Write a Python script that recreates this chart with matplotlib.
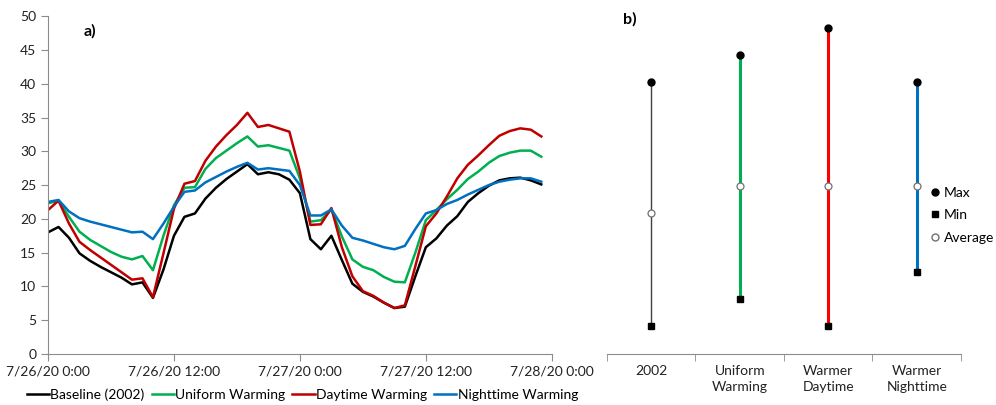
import matplotlib
matplotlib.use("Agg")
import matplotlib.pyplot as plt
from matplotlib.lines import Line2D

plt.rcParams["font.family"] = ["Lato", "DejaVu Sans"]

# hourly temperatures, 7/26/20 0:00 .. 7/27/20 23:00
hours = list(range(48))
baseline = [18.0, 18.8, 17.2, 14.9, 13.8, 12.9, 12.1, 11.3, 10.3, 10.6, 8.3, 12.5,
            17.5, 20.3, 20.8, 23.0, 24.6, 25.9, 27.0, 28.1, 26.6, 26.9, 26.6, 25.8,
            23.8, 17.0, 15.5, 17.5, 13.9, 10.4, 9.2, 8.5, 7.6, 6.8, 7.0, 11.5,
            15.8, 17.1, 19.0, 20.4, 22.5, 23.8, 24.9, 25.7, 26.0, 26.1, 25.7, 25.1]
uniform = [22.3, 22.7, 20.3, 18.1, 16.9, 16.0, 15.1, 14.4, 14.0, 14.5, 12.4, 17.5,
           22.0, 24.6, 24.7, 27.4, 29.0, 30.1, 31.2, 32.2, 30.7, 30.9, 30.5, 30.1,
           26.0, 19.6, 19.8, 21.4, 17.4, 14.0, 12.9, 12.4, 11.4, 10.7, 10.6, 15.0,
           19.8, 21.3, 22.9, 24.3, 25.9, 27.0, 28.3, 29.3, 29.8, 30.1, 30.1, 29.2]
daytime = [21.3, 22.7, 19.3, 16.6, 15.4, 14.3, 13.2, 12.1, 11.0, 11.2, 8.4, 14.9,
           21.5, 25.2, 25.6, 28.6, 30.7, 32.4, 33.9, 35.7, 33.6, 33.9, 33.4, 32.9,
           27.0, 19.1, 19.2, 21.6, 15.8, 11.5, 9.3, 8.6, 7.6, 6.8, 7.2, 13.0,
           18.9, 20.8, 23.3, 26.0, 28.0, 29.4, 30.9, 32.3, 33.0, 33.4, 33.2, 32.2]
nighttime = [22.5, 22.8, 21.1, 20.1, 19.6, 19.2, 18.8, 18.4, 18.0, 18.1, 17.0, 19.3,
             21.8, 24.0, 24.2, 25.4, 26.2, 27.0, 27.7, 28.3, 27.3, 27.5, 27.3, 27.1,
             25.0, 20.5, 20.5, 21.4, 19.0, 17.2, 16.8, 16.3, 15.8, 15.5, 16.0, 18.5,
             20.8, 21.3, 22.2, 22.8, 23.6, 24.3, 25.0, 25.5, 25.8, 26.0, 26.0, 25.5]
series_names = ["Baseline (2002)", "Uniform Warming", "Daytime Warming", "Nighttime Warming"]
time_ticks = [0, 12, 24, 36, 48]
time_labels = ["7/26/20 0:00", "7/26/20 12:00", "7/27/20 0:00", "7/27/20 12:00", "7/28/20 0:00"]

# panel b summary
scenarios = ["2002", "Uniform\nWarming", "Warmer\nDaytime", "Warmer\nNighttime"]
t_max = [40.2, 44.2, 48.3, 40.2]
t_min = [4.2, 8.2, 4.2, 12.2]
t_avg = [20.9, 24.9, 24.9, 24.9]

line_colors = ["black", "#00B050", "#C00000", "#0070C0"]
bar_colors = ["#404040", "#00B050", "#FF0000", "#0070C0"]
bar_widths = [1.0, 2.2, 2.2, 2.2]
axis_grey = "#8c8c8c"
fs = 10

fig = plt.figure(figsize=(9.96, 4.05), dpi=100)

# ---- panel a
ax = fig.add_axes([0.0482, 0.126, 0.5058, 0.834])
for vals, col, name in zip([baseline, uniform, daytime, nighttime], line_colors, series_names):
    ax.plot(hours, vals, color=col, lw=1.8, label=name)
ax.set_xlim(0, 48)
ax.set_ylim(0, 50)
ax.set_yticks(range(0, 51, 5))
ax.set_xticks(time_ticks)
ax.set_xticklabels(time_labels)
for s in ["top", "right"]:
    ax.spines[s].set_visible(False)
for s in ["left", "bottom"]:
    ax.spines[s].set_color(axis_grey)
ax.tick_params(direction="out", length=5, color=axis_grey, labelsize=fs, labelcolor="#222222")
ax.text(0.07, 0.955, "a)", transform=ax.transAxes, fontsize=11.5, fontweight="bold", va="center")
ax.legend(loc="upper center", bbox_to_anchor=(0.505, -0.085), ncol=4, frameon=False,
          fontsize=fs, handlelength=1.6, handletextpad=0.1, columnspacing=0.5, borderaxespad=0)

# ---- panel b
bx = fig.add_axes([0.6094, 0.126, 0.3554, 0.834])
pos = list(range(1, len(scenarios) + 1))
for p, lo, hi, col, w in zip(pos, t_min, t_max, bar_colors, bar_widths):
    bx.plot([p, p], [lo, hi], color=col, lw=w, zorder=1)
bx.plot(pos, t_max, "o", ls="none", color="black", ms=5, zorder=3)
bx.plot(pos, t_min, "s", ls="none", color="black", ms=5, zorder=3)
bx.plot(pos, t_avg, "o", ls="none", mfc="white", mec="#707070", ms=5, mew=0.9, zorder=3)
bx.set_xlim(0.5, len(scenarios) + 0.5)
bx.set_ylim(0, 50)
bx.set_yticks([])
bx.set_xticks(pos)
bx.set_xticklabels(scenarios, linespacing=1.4)
bx.set_xticks([p + 0.5 for p in [0] + pos], minor=True)
bx.tick_params(axis="x", which="major", length=0, pad=8, labelsize=fs, labelcolor="#222222")
bx.tick_params(axis="x", which="minor", direction="out", length=5, color=axis_grey)
for s in ["top", "right", "left"]:
    bx.spines[s].set_visible(False)
bx.spines["bottom"].set_color(axis_grey)
bx.text(0.045, 0.99, "b)", transform=bx.transAxes, fontsize=11.5, fontweight="bold", va="center")

handles = [
    Line2D([], [], marker="o", ls="none", color="black", ms=5),
    Line2D([], [], marker="s", ls="none", color="black", ms=5),
    Line2D([], [], marker="o", ls="none", mfc="white", mec="#707070", ms=5),
]
bx.legend(handles, ["Max", "Min", "Average"], loc="center left", bbox_to_anchor=(0.9, 0.411),
          frameon=False, fontsize=fs, handlelength=0.6, handletextpad=0.3, labelspacing=0.75,
          borderaxespad=0)

fig.savefig("out.png", dpi=100)
